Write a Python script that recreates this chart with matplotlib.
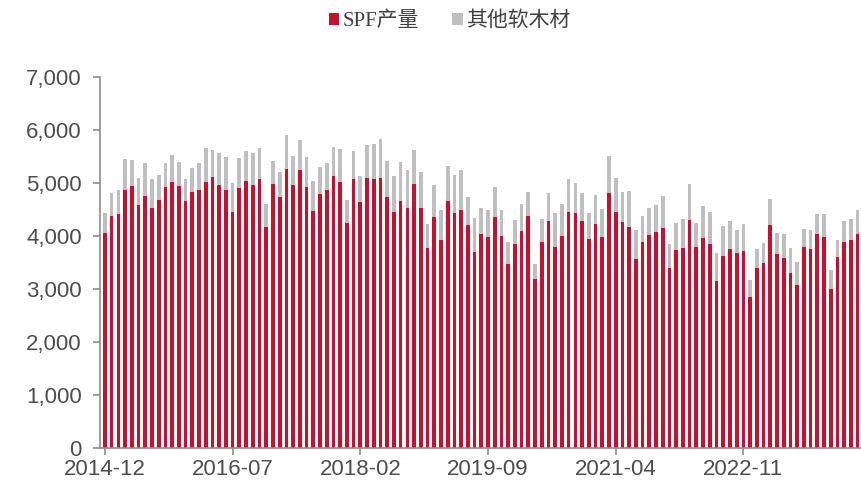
import matplotlib
matplotlib.use("Agg")
import matplotlib.pyplot as plt
import numpy as np
import pandas as pd

# --------------------------------------------------
# DATA (monthly, 2014-12 .. 2024-04)
# --------------------------------------------------

months = pd.date_range("2014-12-01", periods=113, freq="MS").strftime("%Y-%m").tolist()

spf = [
    4050, 4384, 4409, 4862, 4937, 4585, 4761, 4528, 4679, 4918,
    5025, 4943, 4660, 4836, 4862, 5013, 5113, 4962, 4874, 4446,
    4899, 5038, 4969, 5075, 4164, 4981, 4742, 5264, 4962, 5252,
    4918, 4478, 4799, 4874, 5138, 5019, 4245, 5082, 4635, 5101,
    5075, 5101, 4736, 4446, 4667, 4522, 4987, 4522, 3780, 4352,
    3918, 4654, 4434, 4484, 4207, 3704, 4031, 3987, 4365, 4000,
    3465, 3843, 4101, 4384, 3189, 3880, 4289, 3799, 3994, 4459,
    4434, 4283, 3950, 4233, 3987, 4811, 4459, 4270, 4176, 3566,
    3893, 4019, 4082, 4145, 3390, 3736, 3767, 4302, 3792, 3956,
    3855, 3151, 3622, 3748, 3679, 3723, 2849, 3390, 3497, 4207,
    3660, 3585, 3295, 3082, 3786, 3761, 4031, 3987, 3006, 3610,
    3880, 3924, 4044,
]

other_softwood = [
    384, 427, 453, 585, 497, 509, 616, 547, 472, 453,
    497, 460, 415, 453, 509, 654, 510, 610, 610, 548,
    566, 572, 597, 585, 440, 428, 459, 635, 554, 553,
    566, 560, 509, 497, 535, 623, 428, 528, 491, 610,
    655, 723, 673, 692, 736, 717, 642, 679, 453, 610,
    572, 673, 717, 761, 523, 642, 504, 510, 553, 497,
    428, 465, 496, 452, 283, 434, 516, 641, 610, 610,
    566, 522, 478, 534, 522, 692, 635, 560, 667, 547,
    491, 516, 496, 610, 453, 515, 547, 679, 453, 604,
    604, 522, 560, 535, 440, 503, 321, 358, 377, 497,
    397, 446, 485, 434, 346, 358, 378, 422, 346, 321,
    396, 396, 440,
]

tick_labels = ["2014-12", "2016-07", "2018-02", "2019-09", "2021-04", "2022-11"]
y_ticks = [0, 1000, 2000, 3000, 4000, 5000, 6000, 7000]

series_names = ["SPF产量", "其他软木材"]

# --------------------------------------------------
# PLOT
# --------------------------------------------------

RED = "#C8102E"
GREY = "#BFBFBF"
TXT = "#4D4D4D"
AXC = "#8C8C8C"

fig = plt.figure(figsize=(8.61, 4.91), dpi=100)
ax = fig.add_axes([0.116, 0.088, 0.884, 0.755])

x = np.arange(len(months))

ax.bar(x, spf, width=0.55, color=RED, label=series_names[0])
ax.bar(x, other_softwood, width=0.55, bottom=spf, color=GREY, label=series_names[1])

ax.set_xlim(-0.75, len(months) - 0.5)
ax.set_ylim(0, 7000)

ax.set_yticks(y_ticks)
ax.set_yticklabels([f"{v:,}" for v in y_ticks])

ax.set_xticks([months.index(t) for t in tick_labels])
ax.set_xticklabels(tick_labels)

for s in ["top", "right"]:
    ax.spines[s].set_visible(False)
for s in ["left", "bottom"]:
    ax.spines[s].set_color(AXC)
    ax.spines[s].set_linewidth(1.2)

ax.tick_params(axis="both", colors=AXC, length=5, width=1.2)
ax.tick_params(axis="y", labelsize=16, labelcolor=TXT, pad=8)
ax.tick_params(axis="x", labelsize=16, labelcolor=TXT, pad=3)
for lab in ax.get_xticklabels() + ax.get_yticklabels():
    lab.set_family(["Liberation Sans", "DejaVu Sans"])

# legend on top, small square markers
leg = fig.legend(
    loc="upper center",
    bbox_to_anchor=(0.522, 1.015),
    ncol=2,
    frameon=False,
    handlelength=0.5,
    handleheight=0.5,
    handletextpad=0.15,
    columnspacing=1.6,
    prop={"family": ["Liberation Serif", "Noto Sans CJK SC"], "size": 15},
)
for t in leg.get_texts():
    t.set_color("#404040")

fig.savefig("out.png", dpi=100)
